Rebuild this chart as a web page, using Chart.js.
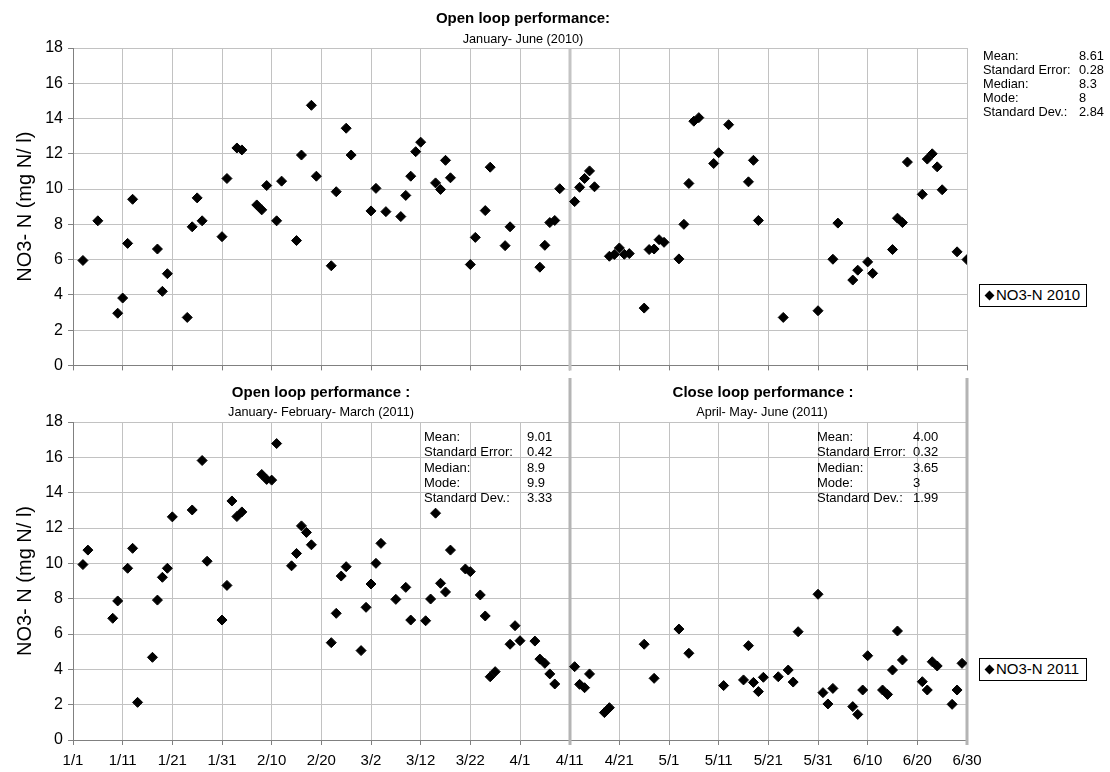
<!DOCTYPE html>
<html lang="en">
<head>
<meta charset="utf-8">
<title>NO3-N - open / close loop performance</title>
<script src="https://cdn.jsdelivr.net/npm/chart.js@4.4.1/dist/chart.umd.min.js"></script>
<style>
    html, body { margin: 0; padding: 0; background: #ffffff; }
    #pagina {
        position: relative;
        width: 1110px;
        height: 772px;
        overflow: hidden;
        font-family: 'Liberation Sans', Arial, sans-serif;
        color: #000;
    }
    #pagina canvas { position: absolute; left: 0; }
    .titulo, .subtitulo { position: absolute; white-space: nowrap; transform: translateX(-50%); }
    .titulo { font-weight: bold; font-size: 15px; line-height: 15px; }
    .subtitulo { font-size: 12.7px; line-height: 13px; }
    .estatisticas { position: absolute; white-space: nowrap; }
    .estatisticas div { position: relative; }
    .estatisticas span.valor { position: absolute; }
    .legenda {
        position: absolute;
        box-sizing: border-box;
        border: 1px solid #000;
        font-size: 15px;
        line-height: 20px;
        padding-left: 6px;
        white-space: nowrap;
        background: #fff;
    }
    .legenda i {
        display: inline-block;
        width: 7px;
        height: 7px;
        background: #000;
        transform: rotate(45deg);
        margin-right: 3px;
        vertical-align: 1px;
    }
</style>
</head>
<body>
<div id="pagina">
    <canvas id="grafico2010" width="1110" height="380" style="top:0"></canvas>
    <canvas id="grafico2011" width="1110" height="400" style="top:372px"></canvas>

    <div class="titulo" style="left:523px; top:10px">Open loop performance:</div>
    <div class="subtitulo" style="left:523px; top:33px">January- June (2010)</div>

    <div class="titulo" style="left:321px; top:384px">Open loop performance :</div>
    <div class="subtitulo" style="left:321px; top:406px">January- February- March (2011)</div>

    <div class="titulo" style="left:763px; top:384px">Close loop performance :</div>
    <div class="subtitulo" style="left:762px; top:406px">April- May- June (2011)</div>

    <div class="legenda" style="left:979px; top:284px; width:108px; height:23px"><i></i>NO3-N 2010</div>
    <div class="legenda" style="left:979px; top:658px; width:108px; height:23px"><i></i>NO3-N 2011</div>
</div>

<script>
// Dados (data da coleta -> NO3-N em mg N/l)
const datas2010 = [
    '1/3', '1/6', '1/10', '1/11', '1/12', '1/13', '1/18', '1/19', '1/20', '1/24',
    '1/25', '1/26', '1/27', '1/31', '2/1', '2/3', '2/4', '2/7', '2/8', '2/9',
    '2/11', '2/12', '2/15', '2/16', '2/18', '2/19', '2/22', '2/23', '2/25', '2/26',
    '3/2', '3/3', '3/5', '3/8', '3/9', '3/10', '3/11', '3/12', '3/15', '3/16',
    '3/17', '3/18', '3/22', '3/23', '3/25', '3/26', '3/29', '3/30', '4/5', '4/6',
    '4/7', '4/8', '4/9', '4/12', '4/13', '4/14', '4/15', '4/16', '4/19', '4/20',
    '4/21', '4/22', '4/23', '4/26', '4/27', '4/28', '4/29', '4/30', '5/3', '5/4',
    '5/5', '5/6', '5/7', '5/10', '5/11', '5/13', '5/17', '5/18', '5/19', '5/24',
    '5/31', '6/3', '6/4', '6/7', '6/8', '6/10', '6/11', '6/15', '6/16', '6/17',
    '6/18', '6/21', '6/22', '6/23', '6/24', '6/25', '6/28', '6/30'
];
const no3n2010 = [
    5.95, 8.2, 2.96, 3.82, 6.92, 9.42, 6.6, 4.2, 5.2, 2.72,
    7.86, 9.5, 8.2, 7.3, 10.6, 12.33, 12.22, 9.1, 8.82, 10.2,
    8.2, 10.45, 7.08, 11.93, 14.75, 10.73, 5.65, 9.85, 13.45, 11.93,
    8.76, 10.04, 8.72, 8.44, 9.64, 10.73, 12.12, 12.66, 10.35, 9.98,
    11.63, 10.64, 5.72, 7.26, 8.78, 11.24, 6.79, 7.86, 5.57, 6.81,
    8.1, 8.22, 10.02, 9.29, 10.1, 10.6, 11.03, 10.13, 6.19, 6.29,
    6.66, 6.3, 6.34, 3.25, 6.57, 6.6, 7.13, 6.98, 6.04, 8.0,
    10.32, 13.85, 14.05, 11.45, 12.06, 13.65, 10.41, 11.63, 8.22, 2.72,
    3.1, 6.02, 8.07, 4.84, 5.4, 5.87, 5.22, 6.57, 8.35, 8.1,
    11.53, 9.7, 11.7, 12.0, 11.26, 9.96, 6.44, 6.0
];

const datas2011 = [
    '1/3', '1/4', '1/9', '1/10', '1/12', '1/13', '1/14', '1/17', '1/18', '1/19',
    '1/20', '1/21', '1/25', '1/27', '1/28', '1/31', '2/1', '2/2', '2/3', '2/4',
    '2/8', '2/9', '2/10', '2/11', '2/14', '2/15', '2/16', '2/17', '2/18', '2/22',
    '2/23', '2/24', '2/25', '2/28', '3/1', '3/2', '3/3', '3/4', '3/7', '3/9',
    '3/10', '3/13', '3/14', '3/15', '3/16', '3/17', '3/18', '3/21', '3/22', '3/24',
    '3/25', '3/26', '3/27', '3/30', '3/31', '4/1', '4/4', '4/5', '4/6', '4/7',
    '4/8', '4/12', '4/13', '4/14', '4/15', '4/18', '4/19', '4/26', '4/28', '5/3',
    '5/5', '5/12', '5/16', '5/17', '5/18', '5/19', '5/20', '5/23', '5/25', '5/26',
    '5/27', '5/31', '6/1', '6/2', '6/3', '6/7', '6/8', '6/9', '6/10', '6/13',
    '6/14', '6/15', '6/16', '6/17', '6/21', '6/22', '6/23', '6/24', '6/27', '6/28',
    '6/29'
];
const no3n2011 = [
    9.93, 10.75, 6.89, 7.87, 9.72, 10.85, 2.13, 4.68, 7.92, 9.21,
    9.72, 12.63, 13.02, 15.82, 10.12, 6.79, 8.75, 13.53, 12.65, 12.91,
    15.03, 14.75, 14.71, 16.78, 9.86, 10.56, 12.12, 11.75, 11.05, 5.51,
    7.17, 9.28, 9.81, 5.06, 7.51, 8.83, 10.0, 11.13, 7.96, 8.64,
    6.79, 6.75, 7.98, 12.84, 8.87, 8.38, 10.75, 9.68, 9.53, 8.21,
    7.02, 3.58, 3.87, 5.42, 6.47, 5.62, 5.6, 4.58, 4.34, 3.74,
    3.17, 4.15, 3.15, 2.96, 3.74, 1.55, 1.83, 5.42, 3.49, 6.28,
    4.91, 3.08, 3.4, 5.34, 3.26, 2.74, 3.55, 3.58, 3.96, 3.28,
    6.13, 8.25, 2.68, 2.04, 2.92, 1.89, 1.45, 2.83, 4.77, 2.83,
    2.58, 3.96, 6.17, 4.53, 3.3, 2.83, 4.43, 4.19, 2.02, 2.83,
    4.34
];

// Eixos
const yMin = 0, yMax = 18, yPasso = 2;
const diasMax = 180, diasPasso = 10;   // 1/1 ... 6/30
const separacao = 100;                 // 4/11: troca de open loop para close loop

// Caixas de estatística
const rotulosEstat = ['Mean:', 'Standard Error:', 'Median:', 'Mode:', 'Standard Dev.:'];
const estat2010 = ['8.61', '0.28', '8.3', '8', '2.84'];
const estat2011Open = ['9.01', '0.42', '8.9', '9.9', '3.33'];
const estat2011Close = ['4.00', '0.32', '3.65', '3', '1.99'];

const DIA_MS = 86400000;

function dataParaDia(texto) {
    const [m, d] = texto.split('/').map(Number);
    return Math.round((new Date(2011, m - 1, d) - new Date(2011, 0, 1)) / DIA_MS);
}

function diaParaData(dia) {
    const data = new Date(2011, 0, 1 + dia);
    return (data.getMonth() + 1) + '/' + data.getDate();
}

// Linhas verticais grossas que separam os períodos
const separadores = {
    id: 'separadores',
    beforeDatasetsDraw(chart, args, opts) {
        const { ctx, chartArea } = chart;
        const x = chart.scales.x;
        ctx.save();
        ctx.strokeStyle = opts.cor;
        ctx.lineWidth = opts.largura;
        opts.dias.forEach(dia => {
            const px = Math.round(x.getPixelForValue(dia));
            ctx.beginPath();
            ctx.moveTo(px, chartArea.top - opts.acima);
            ctx.lineTo(px, chartArea.bottom + opts.abaixo);
            ctx.stroke();
        });
        ctx.restore();
    }
};

Chart.defaults.font.family = "'Liberation Sans', Arial, sans-serif";
Chart.defaults.color = '#000';

function criarGrafico(idCanvas, datas, valores, rotulo, cfg) {
    const ctx = document.getElementById(idCanvas);
    if (!ctx) return null;

    const pontos = datas.map((d, i) => ({ x: dataParaDia(d), y: valores[i] }));

    return new Chart(ctx, {
        type: 'scatter',
        data: {
            datasets: [{
                label: rotulo,
                data: pontos,
                pointStyle: 'rectRot',
                pointRadius: 5,
                pointBackgroundColor: '#000',
                pointBorderColor: '#000',
                pointBorderWidth: 1
            }]
        },
        options: {
            responsive: false,
            animation: false,
            layout: {
                padding: { top: cfg.topo, right: 143, bottom: 0, left: 0 }
            },
            plugins: {
                legend: { display: false },
                tooltip: { enabled: false },
                separadores: cfg.separadores
            },
            scales: {
                x: {
                    type: 'linear',
                    min: 0,
                    max: diasMax,
                    ticks: {
                        stepSize: diasPasso,
                        display: cfg.mostrarDatas,
                        autoSkip: false,
                        maxRotation: 0,
                        padding: 7,
                        font: { size: 15 },
                        callback: function(valor) {
                            return diaParaData(valor);
                        }
                    },
                    grid: {
                        color: '#c2c2c2',
                        lineWidth: 1,
                        tickLength: 5,
                        tickColor: '#808080'
                    },
                    border: { color: '#808080', width: 1 },
                    afterFit: function(escala) {
                        escala.height = cfg.alturaEixoX;
                    }
                },
                y: {
                    min: yMin,
                    max: yMax,
                    ticks: {
                        stepSize: yPasso,
                        padding: 5,
                        font: { size: 16 }
                    },
                    grid: {
                        color: '#c2c2c2',
                        lineWidth: 1,
                        tickLength: 5,
                        tickColor: '#808080'
                    },
                    border: { color: '#808080', width: 1 },
                    title: {
                        display: true,
                        text: 'NO3- N (mg N/ l)',
                        font: { size: 20 },
                        padding: 13
                    },
                    afterFit: function(escala) {
                        escala.width = 73;
                    }
                }
            }
        },
        plugins: [separadores]
    });
}

function criarEstatisticas(left, top, larguraRotulo, alturaLinha, tamanhoFonte, valores) {
    const caixa = document.createElement('div');
    caixa.className = 'estatisticas';
    caixa.style.left = left + 'px';
    caixa.style.top = top + 'px';
    caixa.style.lineHeight = alturaLinha + 'px';
    caixa.style.fontSize = tamanhoFonte + 'px';
    rotulosEstat.forEach((rotulo, i) => {
        const linha = document.createElement('div');
        linha.textContent = rotulo;
        const valor = document.createElement('span');
        valor.className = 'valor';
        valor.style.left = larguraRotulo + 'px';
        valor.textContent = valores[i];
        linha.appendChild(valor);
        caixa.appendChild(linha);
    });
    document.getElementById('pagina').appendChild(caixa);
}

const grafico2010 = criarGrafico('grafico2010', datas2010, no3n2010, 'NO3-N 2010', {
    topo: 48,
    alturaEixoX: 12,
    mostrarDatas: false,
    separadores: { dias: [separacao], cor: '#c4c4c4', largura: 3, acima: 0, abaixo: 5 }
});

const grafico2011 = criarGrafico('grafico2011', datas2011, no3n2011, 'NO3-N 2011', {
    topo: 50,
    alturaEixoX: 32,
    mostrarDatas: true,
    separadores: { dias: [separacao, diasMax], cor: '#b4b4b4', largura: 3, acima: 44, abaixo: 5 }
});

criarEstatisticas(983, 49, 96, 14, 12.8, estat2010);
criarEstatisticas(424, 429, 103, 15.3, 13, estat2011Open);
criarEstatisticas(817, 429, 96, 15.3, 13, estat2011Close);
</script>
</body>
</html>
